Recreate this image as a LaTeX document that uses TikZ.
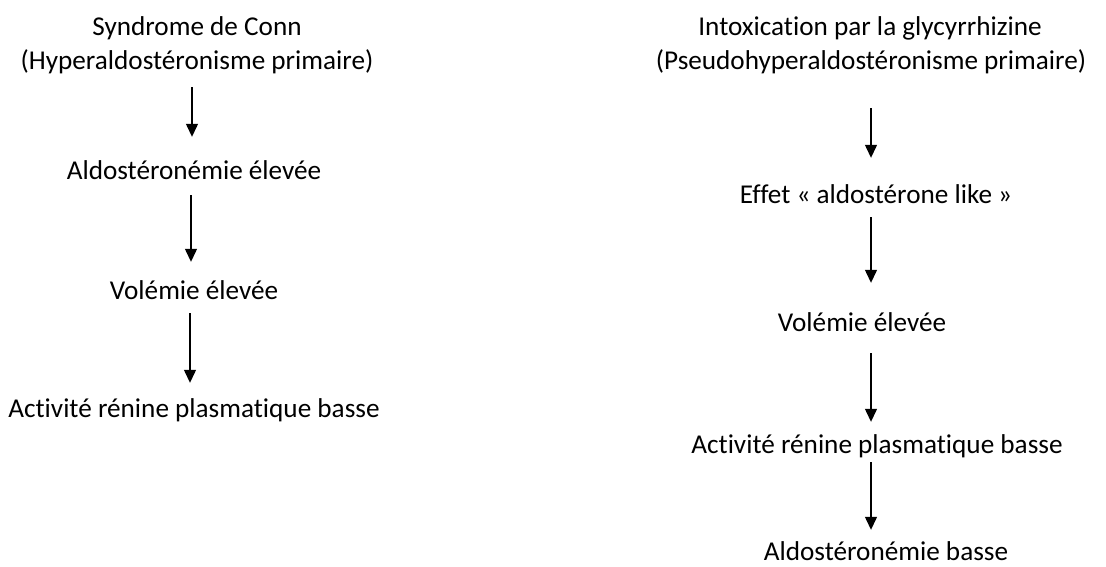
\documentclass[tikz,border=0pt]{standalone}
\usepackage{fontspec}
\setmainfont{Carlito}[Ligatures=NoCommon]
\usetikzlibrary{arrows.meta}
\tikzset{
  lbl/.style={inner sep=0pt, anchor=base, text height=18pt, text depth=6pt, font=\fontsize{27.2}{35}\selectfont},
  arr/.style={-{Triangle[width=12pt,length=13pt]}, line width=1.3pt}
}
\begin{document}
\begin{tikzpicture}[x=1pt,y=-1pt]
\useasboundingbox[fill=white] (0,0) rectangle (1106,567);
% left column
\node[lbl] (a1) at (197,36) {Syndrome de Conn};
\node[lbl] (a2) at (197,70) {(Hyperaldostéronisme primaire)};
\node[lbl] (b) at (194,179) {Aldostéronémie élevée};
\node[lbl] (c) at (194,299) {Volémie élevée};
\node[lbl] (d) at (194,417) {Activité rénine plasmatique basse};
\draw[arr, shorten <=11pt, shorten >=24pt] ([xshift=-5pt]a2.south) -- ([xshift=-2pt]b.north);
\draw[arr, shorten <=10pt, shorten >=19pt] ([xshift=-3pt]b.south) -- ([xshift=-3pt]c.north);
\draw[arr, shorten <=8pt, shorten >=16pt] ([xshift=-4pt]c.south) -- ([xshift=-4pt]d.north);
% right column
\node[lbl] (p1) at (870,36) {Intoxication par la glycyrrhizine};
\node[lbl] (p2) at (871,70) {(Pseudohyperaldostéronisme primaire)};
\node[lbl] (e) at (876,203) {Effet «~aldostérone like~»};
\node[lbl] (f) at (862,331) {Volémie élevée};
\node[lbl] (g) at (877,453) {Activité rénine plasmatique basse};
\node[lbl] (h) at (886,560) {Aldostéronémie basse};
\draw[arr, shorten <=32pt, shorten >=27pt] (p2.south) -- ([xshift=-5pt]e.north);
\draw[arr, shorten <=8pt, shorten >=30pt] ([xshift=-5pt]e.south) -- ([xshift=9pt]f.north);
\draw[arr, shorten <=16pt, shorten >=13pt] ([xshift=9pt]f.south) -- ([xshift=-6pt]g.north);
\draw[arr, shorten <=3pt, shorten >=12pt] ([xshift=-6pt]g.south) -- ([xshift=-15pt]h.north);
\end{tikzpicture}
\end{document}
